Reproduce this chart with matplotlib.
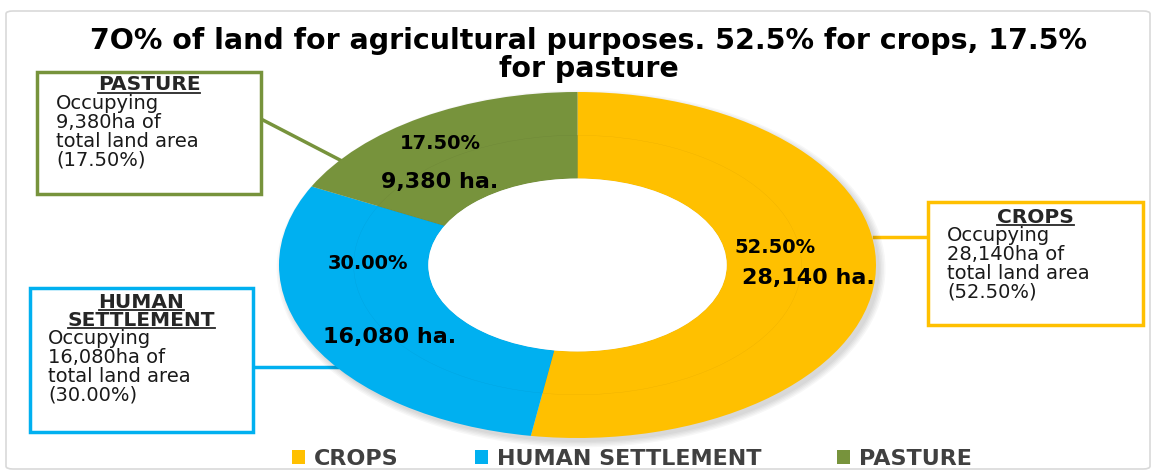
import matplotlib
matplotlib.use("Agg")
import matplotlib.pyplot as plt
from matplotlib.patches import Patch, Rectangle, FancyBboxPatch, Ellipse
from matplotlib.lines import Line2D

W, H = 1154, 470

# data
categories = ['CROPS', 'HUMAN SETTLEMENT', 'PASTURE']
hectares = [28140, 16080, 9380]
percents = [52.50, 30.00, 17.50]
colors = ['#FFC000', '#00B0F0', '#77933C']
box_headings = [['CROPS'], ['HUMAN', 'SETTLEMENT'], ['PASTURE']]

# layout (pixels, measured from the top-left)
pct_pos = [(0.663, 0.104), (-0.703, 0.006), (-0.458, 0.705)]
ha_pos = [(0.774, -0.075), (-0.629, -0.416), (-0.461, 0.480)]
box_rects = [(928, 202, 1143, 325), (30, 288, 253, 432), (37, 72, 261, 194)]
box_body_x = [947, 48, 56]
box_head_y = [217, 302, 85]
connectors = [((874, 237), (928, 237)), ((253, 367), (337, 367)), ((261, 119), (340, 160))]
line_h = 19


def fx(x):
    return x / W


def fy(y):
    return 1 - y / H


plt.rcParams['font.family'] = ['DejaVu Sans']

fig = plt.figure(figsize=(W / 100, H / 100), dpi=100)

# chart area frame
fig.patches.append(FancyBboxPatch((fx(6), fy(469)), 1144 / W, 458 / H,
                                  boxstyle='round,pad=0,rounding_size=0.006',
                                  transform=fig.transFigure, fc='white',
                                  ec='#d9d9d9', lw=1.2, zorder=-10))

# donut (two rings of the same series)
ax = fig.add_axes([fx(279), fy(438), 597 / W, 346 / H])
for k in range(5):
    ax.add_patch(Ellipse((0.012, -0.022), 2.0 + 0.01 * k, 2.0 + 0.016 * k,
                         fc='#000000', alpha=0.03, lw=0, zorder=0, clip_on=False))
ax.pie(hectares, radius=1.0, startangle=90, counterclock=False, colors=colors,
       wedgeprops=dict(width=0.5, linewidth=0))
ax.pie(hectares, radius=0.75, startangle=90, counterclock=False, colors=colors,
       wedgeprops=dict(width=0.25, linewidth=0.3, edgecolor='#00000010'))
ax.add_patch(Ellipse((0, 0), 1.0, 1.0, fc='white', lw=0, zorder=5))
ax.set_aspect('auto')
ax.set_xlim(-1, 1)
ax.set_ylim(-1, 1)
ax.axis('off')

for i in range(len(categories)):
    ax.text(*pct_pos[i], f"{percents[i]:.2f}%", ha='center', va='center',
            fontsize=14, weight='bold', color='black', zorder=10)
    ax.text(*ha_pos[i], f"{hectares[i]:,} ha.", ha='center', va='center',
            fontsize=16, weight='bold', color='black', zorder=10)

# title
fig.text(fx(589), fy(41), "7O% of land for agricultural purposes. 52.5% for crops, 17.5%",
         ha='center', va='center', fontsize=20.5, weight='bold')
fig.text(fx(589), fy(69), "for pasture", ha='center', va='center', fontsize=20.5, weight='bold')

# callout boxes
heads = []
for i in range(len(categories)):
    x0, y0, x1, y1 = box_rects[i]
    fig.patches.append(Rectangle((fx(x0), fy(y1)), (x1 - x0) / W, (y1 - y0) / H,
                                 transform=fig.transFigure, fc='white',
                                 ec=colors[i], lw=2.5, zorder=3))
    (ax0, ay0), (ax1, ay1) = connectors[i]
    fig.lines.append(Line2D([fx(ax0), fx(ax1)], [fy(ay0), fy(ay1)],
                            transform=fig.transFigure, color=colors[i], lw=2.5, zorder=-1))
    y = box_head_y[i]
    for h in box_headings[i]:
        t = fig.text(fx((x0 + x1) / 2), fy(y), h, ha='center', va='center',
                     fontsize=14.5, weight='bold', color='#262626', zorder=4)
        heads.append(t)
        y += line_h * 0.95
    body = ["Occupying", f"{hectares[i]:,}ha of", "total land area", f"({percents[i]:.2f}%)"]
    for line in body:
        fig.text(fx(box_body_x[i]), fy(y), line, ha='left', va='center',
                 fontsize=14, color='#1a1a1a', zorder=4)
        y += line_h

# legend
handles = [Patch(facecolor=c, edgecolor='none') for c in colors]
fig.legend(handles, categories, loc='center', bbox_to_anchor=(fx(632), fy(459)),
           ncol=3, frameon=False, prop=dict(weight='bold', size=16),
           labelcolor='#404040', handlelength=0.6, handleheight=0.6,
           columnspacing=3.4, handletextpad=0.4, borderpad=0)

# underline the box headings
fig.canvas.draw()
renderer = fig.canvas.get_renderer()
for t in heads:
    bb = t.get_window_extent(renderer)
    yline = bb.y0 + 2
    fig.lines.append(Line2D([bb.x0 / W, bb.x1 / W], [yline / H, yline / H],
                            transform=fig.transFigure, color='#262626', lw=1.3, zorder=4))

fig.savefig("out.png", dpi=100)
